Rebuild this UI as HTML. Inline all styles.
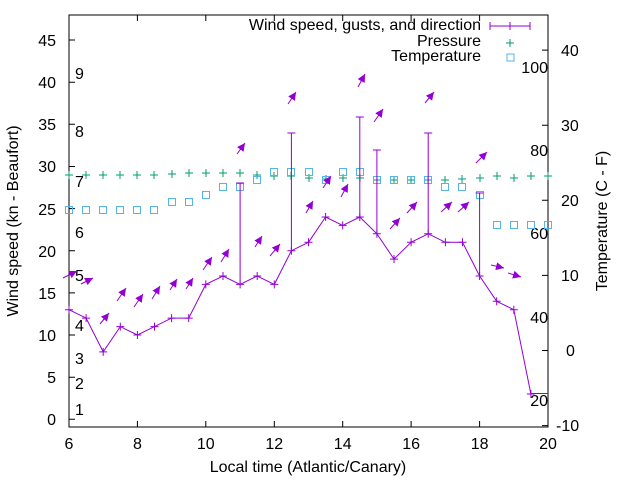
<!DOCTYPE html>
<html><head><meta charset="utf-8"><style>
html,body{margin:0;padding:0;background:#fff;}
svg{display:block;font-family:"Liberation Sans",sans-serif;}
</style></head><body>
<svg width="640" height="480" viewBox="0 0 640 480" xmlns="http://www.w3.org/2000/svg">
<defs>
<marker id="ah" markerUnits="userSpaceOnUse" markerWidth="10" markerHeight="10" refX="8" refY="4" orient="auto">
<path d="M0,0 L8,4 L0,8 Z" fill="#9400d3"/>
</marker>
</defs>
<rect width="640" height="480" fill="#fff"/>
<rect x="69" y="15" width="479" height="412" fill="none" stroke="#000" stroke-width="1"/>
<g stroke="#000" stroke-width="1">
<path d="M69,427v-6M137.4,427v-6M205.8,427v-6M274.3,427v-6M342.7,427v-6M411.1,427v-6M479.6,427v-6M548,427v-6"/>
<path d="M69,15v6M137.4,15v6M205.8,15v6M274.3,15v6M342.7,15v6M411.1,15v6M479.6,15v6M548,15v6"/>
<path d="M69,419.3h6M69,377.2h6M69,335h6M69,292.9h6M69,250.7h6M69,208.6h6M69,166.5h6M69,124.3h6M69,82.2h6M69,40h6"/>
<path d="M548,425.6h-6M548,350.5h-6M548,275.4h-6M548,200.3h-6M548,125.2h-6M548,50.1h-6"/>
</g>
<g font-size="16" fill="#000">
<g text-anchor="end">
<text x="56" y="425">0</text><text x="56" y="383">5</text><text x="56" y="341">10</text>
<text x="56" y="299">15</text><text x="56" y="257">20</text><text x="56" y="215">25</text>
<text x="56" y="172">30</text><text x="56" y="130">35</text><text x="56" y="88">40</text><text x="56" y="46">45</text>
</g>
<g text-anchor="middle">
<text x="69" y="449">6</text><text x="137.4" y="449">8</text><text x="205.8" y="449">10</text>
<text x="274.3" y="449">12</text><text x="342.7" y="449">14</text><text x="411.1" y="449">16</text>
<text x="479.6" y="449">18</text><text x="548" y="449">20</text>
</g>
<g text-anchor="start">
<text x="556" y="431">-10</text><text x="566" y="356">0</text><text x="561" y="281">10</text>
<text x="561" y="206">20</text><text x="561" y="131">30</text><text x="561" y="56">40</text>
</g>
<g text-anchor="end">
<text x="548" y="73">100</text><text x="548" y="156">80</text><text x="548" y="239">60</text>
<text x="548" y="323">40</text><text x="548" y="406">20</text>
</g>
<g text-anchor="start">
<text x="75" y="415">1</text><text x="75" y="389">2</text><text x="75" y="364">3</text>
<text x="75" y="331">4</text><text x="75" y="281">5</text><text x="75" y="238">6</text>
<text x="75" y="187">7</text><text x="75" y="137">8</text><text x="75" y="79">9</text>
</g>
</g>
<g font-size="16" fill="#000">
<text x="308" y="472" text-anchor="middle">Local time (Atlantic/Canary)</text>
<text transform="translate(18,221) rotate(-90)" text-anchor="middle">Wind speed (kn - Beaufort)</text>
<text transform="translate(607,221) rotate(-90)" text-anchor="middle">Temperature (C - F)</text>
<text x="481" y="30" text-anchor="end">Wind speed, gusts, and direction</text>
<text x="481" y="46" text-anchor="end">Pressure</text>
<text x="481" y="61" text-anchor="end">Temperature</text>
</g>
<g stroke="#9400d3" stroke-width="1" fill="none">
<path d="M490,26h40M490,22v8M530,22v8M510,22v8"/>
</g>
<path d="M506,43h8M510,39v8" stroke="#009e73" stroke-width="1"/>
<rect x="507" y="54" width="7" height="7" fill="none" stroke="#56b4e9" stroke-width="1"/>

<g stroke="#009e73" stroke-width="1" fill="none">
<path d="M65,175h8M69,171v8 M82,175h8M86,171v8 M99,175h8M103,171v8 M116,175h8M120,171v8 M133,175h8M137,171v8 M150,175h8M154,171v8 M168,174h8M172,170v8 M185,173h8M189,169v8 M202,173h8M206,169v8 M219,173h8M223,169v8 M236,173h8M240,169v8 M253,175h8M257,171v8 M270,176h8M274,172v8 M287,176h8M291,172v8 M305,178h8M309,174v8 M322,179h8M326,175v8 M339,178h8M343,174v8 M356,178h8M360,174v8 M373,180h8M377,176v8 M390,180h8M394,176v8 M407,180h8M411,176v8 M424,180h8M428,176v8 M441,180h8M445,176v8 M458,179h8M462,175v8 M476,178h8M480,174v8 M493,176h8M497,172v8 M510,178h8M514,174v8 M527,176h8M531,172v8 M544,176h8M548,172v8"/>
</g>
<g stroke="#56b4e9" stroke-width="1" fill="none">
<rect x="65.5" y="206.5" width="7" height="7"/><rect x="82.5" y="206.5" width="7" height="7"/>
<rect x="99.5" y="206.5" width="7" height="7"/><rect x="116.5" y="206.5" width="7" height="7"/>
<rect x="133.5" y="206.5" width="7" height="7"/><rect x="150.5" y="206.5" width="7" height="7"/>
<rect x="168.5" y="198.5" width="7" height="7"/><rect x="185.5" y="198.5" width="7" height="7"/>
<rect x="202.5" y="191.5" width="7" height="7"/><rect x="219.5" y="183.5" width="7" height="7"/>
<rect x="236.5" y="183.5" width="7" height="7"/><rect x="253.5" y="176.5" width="7" height="7"/>
<rect x="270.5" y="168.5" width="7" height="7"/><rect x="287.5" y="168.5" width="7" height="7"/>
<rect x="305.5" y="168.5" width="7" height="7"/><rect x="322.5" y="176.5" width="7" height="7"/>
<rect x="339.5" y="168.5" width="7" height="7"/><rect x="356.5" y="168.5" width="7" height="7"/>
<rect x="373.5" y="176.5" width="7" height="7"/><rect x="390.5" y="176.5" width="7" height="7"/>
<rect x="407.5" y="176.5" width="7" height="7"/><rect x="424.5" y="176.5" width="7" height="7"/>
<rect x="441.5" y="183.5" width="7" height="7"/><rect x="458.5" y="183.5" width="7" height="7"/>
<rect x="476.5" y="191.5" width="7" height="7"/><rect x="493.5" y="221.5" width="7" height="7"/>
<rect x="510.5" y="221.5" width="7" height="7"/><rect x="527.5" y="221.5" width="7" height="7"/>
<rect x="544.5" y="221.5" width="7" height="7"/>
</g>
<g stroke="#9400d3" stroke-width="1" fill="none">
<polyline points="69,309.7 86.1,318.1 103.2,351.9 120.3,326.6 137.4,335 154.5,326.6 171.6,318.1 188.7,318.1 205.8,284.4 223,276 240.1,284.4 257.2,276 274.3,284.4 291.4,250.7 308.5,242.3 325.6,217 342.7,225.4 359.8,217 376.9,233.8 394,259.1 411.1,242.3 428.2,233.8 445.4,242.3 462.5,242.3 479.6,276 496.7,301.3 513.8,309.7 530.9,394"/>
<path d="M530.9,393.5H548"/>
<path d="M65,309.7h8M69,305.7v8 M82.1,318.1h8M86.1,314.1v8 M99.2,351.9h8M103.2,347.9v8 M116.3,326.6h8M120.3,322.6v8 M133.4,335h8M137.4,331v8 M150.5,326.6h8M154.5,322.6v8 M167.6,318.1h8M171.6,314.1v8 M184.7,318.1h8M188.7,314.1v8 M201.8,284.4h8M205.8,280.4v8 M219,276h8M223,272v8 M236.1,284.4h8M240.1,280.4v8 M253.2,276h8M257.2,272v8 M270.3,284.4h8M274.3,280.4v8 M287.4,250.7h8M291.4,246.7v8 M304.5,242.3h8M308.5,238.3v8 M321.6,217h8M325.6,213v8 M338.7,225.4h8M342.7,221.4v8 M355.8,217h8M359.8,213v8 M372.9,233.8h8M376.9,229.8v8 M390,259.1h8M394,255.1v8 M407.1,242.3h8M411.1,238.3v8 M424.2,233.8h8M428.2,229.8v8 M441.4,242.3h8M445.4,238.3v8 M458.5,242.3h8M462.5,238.3v8 M475.6,276h8M479.6,272v8 M492.7,301.3h8M496.7,297.3v8 M509.8,309.7h8M513.8,305.7v8 M526.9,394h8M530.9,390v8"/>
<path d="M240.1,284.4V183M236.1,183h8 M291.4,250.7V133M287.4,133h8 M359.8,217V117M355.8,117h8 M376.9,233.8V150M372.9,150h8 M428.2,233.8V133M424.2,133h8 M479.6,276V193M475.6,193h8"/>
</g>
<g stroke="#9400d3" stroke-width="1" fill="none" marker-end="url(#ah)">
<line x1="63" y1="278" x2="77" y2="271"/>
<line x1="81" y1="284" x2="93" y2="278"/>
<line x1="100" y1="324" x2="109" y2="313"/>
<line x1="117" y1="301" x2="126" y2="288"/>
<line x1="134" y1="307" x2="143" y2="294"/>
<line x1="152" y1="299" x2="160" y2="286"/>
<line x1="170" y1="290" x2="177" y2="279"/>
<line x1="186" y1="289" x2="193" y2="278"/>
<line x1="203" y1="270" x2="212" y2="257"/>
<line x1="221" y1="262" x2="229" y2="249"/>
<line x1="237" y1="154" x2="245" y2="143"/>
<line x1="255" y1="247" x2="262" y2="236"/>
<line x1="270" y1="256" x2="280" y2="244"/>
<line x1="288" y1="104" x2="296" y2="92"/>
<line x1="306" y1="213" x2="313" y2="201"/>
<line x1="323" y1="188" x2="331" y2="176"/>
<line x1="341" y1="197" x2="348" y2="184"/>
<line x1="358" y1="87" x2="365" y2="74"/>
<line x1="374" y1="122" x2="383" y2="109"/>
<line x1="390" y1="229" x2="400" y2="218"/>
<line x1="407" y1="213" x2="417" y2="202"/>
<line x1="425" y1="103" x2="434" y2="92"/>
<line x1="441" y1="212" x2="452" y2="202"/>
<line x1="458" y1="212" x2="469" y2="202"/>
<line x1="476" y1="163" x2="487" y2="152"/>
<line x1="491" y1="265" x2="504" y2="268"/>
<line x1="508" y1="273" x2="521" y2="277"/>
</g>
</svg>
</body></html>
